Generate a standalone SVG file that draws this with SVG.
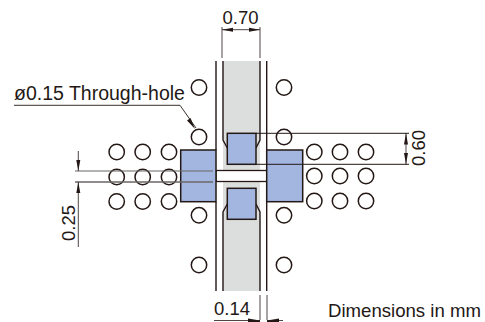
<svg xmlns="http://www.w3.org/2000/svg" width="485" height="322" viewBox="0 0 485 322">
<style>
text{font-family:"Liberation Sans",Arial,sans-serif;font-size:18.5px;fill:#231815}
.h{fill:none;stroke:#231815;stroke-width:1.5}
.s{fill:none;stroke:#231815;stroke-width:1.4}
.d{fill:none;stroke:#231815;stroke-width:.8}
.g{fill:none;stroke:#6b6664;stroke-width:1.2}
.b{fill:#a3b6df;stroke:#231815;stroke-width:1.5}
.a{fill:#231815;stroke:none}
</style>
<rect x="223" y="61" width="37" height="230" fill="#dcdedd"/>
<g id="board">
<path class="s" d="M216 61V150M216 202V291M266.700 61V150M266.700 202V291"/>
<path class="s" d="M223 61V140L227.300 148M260 61V140L256 148M223 291V212L227.300 204M260 291V212L256 204"/>
<rect x="216" y="170.500" width="50.700" height="11" fill="#fff" stroke="#231815" stroke-width="1.300"/>
</g>
<g id="pads">
<rect class="b" x="180.700" y="150" width="35.300" height="51.700"/>
<rect class="b" x="266.700" y="150" width="36" height="51.700"/>
<rect class="b" x="227.300" y="133.300" width="28.700" height="31"/>
<rect class="b" x="227.300" y="188.300" width="28.700" height="31"/>
</g>
<g id="holes">
<circle class="h" cx="116.700" cy="152" r="7.700"/><circle class="h" cx="142.700" cy="152" r="7.700"/><circle class="h" cx="169" cy="152" r="7.700"/>
<circle class="h" cx="116.700" cy="177" r="7.700"/><circle class="h" cx="142.700" cy="177" r="7.700"/><circle class="h" cx="169" cy="177" r="7.700"/>
<circle class="h" cx="116.700" cy="201.500" r="7.700"/><circle class="h" cx="142.700" cy="201.500" r="7.700"/><circle class="h" cx="169" cy="201.500" r="7.700"/>
<circle class="h" cx="314.300" cy="152" r="7.700"/><circle class="h" cx="340" cy="152" r="7.700"/><circle class="h" cx="366" cy="152" r="7.700"/>
<circle class="h" cx="314.300" cy="176" r="7.700"/><circle class="h" cx="340" cy="176" r="7.700"/><circle class="h" cx="366" cy="176" r="7.700"/>
<circle class="h" cx="314.300" cy="201" r="7.700"/><circle class="h" cx="340" cy="201" r="7.700"/><circle class="h" cx="366" cy="201" r="7.700"/>
<circle class="h" cx="199" cy="87.500" r="7.700"/><circle class="h" cx="199" cy="137" r="7.700"/><circle class="h" cx="199" cy="215.300" r="7.700"/><circle class="h" cx="199" cy="265" r="7.700"/>
<circle class="h" cx="284" cy="87.500" r="7.700"/><circle class="h" cx="284" cy="137" r="7.700"/><circle class="h" cx="284" cy="215.300" r="7.700"/><circle class="h" cx="284" cy="265" r="7.700"/>
</g>
<g id="connectors">
<path class="d" d="M222 27V58M260 27V58M222 29.700H260"/>
<path class="a" d="M222 29.700L233 27.700V31.700ZM260 29.700L249 27.700V31.700Z"/>
<path class="g" d="M75 171H213"/>
<path class="g" d="M75 182H213" style="stroke-width:1.600"/>
<path class="d" d="M78.300 151V171M78.300 182V247"/>
<path class="a" d="M78.300 171L76.300 160H80.300ZM78.300 182L76.300 193H80.300Z"/>
<path class="s" d="M256 133.300H409M256 164.300H409" style="stroke-width:1"/>
<path class="d" d="M406 133.300V164.300"/>
<path class="a" d="M406 133.300L404 144.500H408ZM406 164.300L404 153H408Z"/>
<path class="s" d="M14 105.300H180L196 128" style="stroke-width:.9"/>
<path class="a" d="M195 129L187 120.500L190.500 118Z"/>
<path class="g" d="M260 295V320M267 295V320"/>
<path class="d" d="M214 320.500H260M267 320.500H283"/>
<path class="a" d="M260 320.500L248 318.500V322H260ZM267 320.500L279 318.500V322H267Z"/>
</g>
<g id="labels">
<text x="222.500" y="24">0.70</text>
<text x="14" y="100" style="font-size:19.500px">ø0.15 Through-hole</text>
<text transform="translate(75 241) rotate(-90)">0.25</text>
<text transform="translate(425 166) rotate(-90)">0.60</text>
<text x="214" y="315">0.14</text>
<text x="328" y="316.500" style="font-size:18.600px">Dimensions in mm</text>
</g>
</svg>
